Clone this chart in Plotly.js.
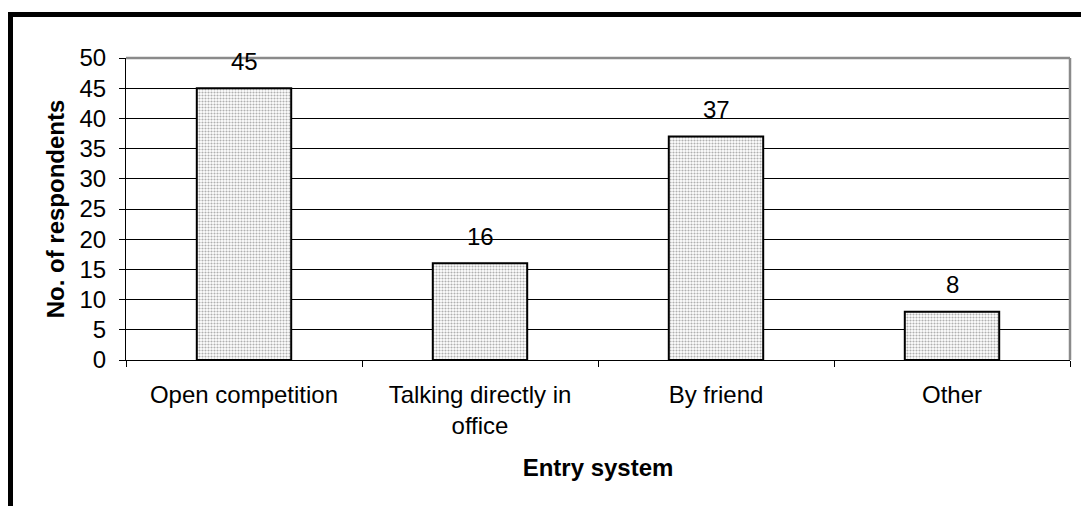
<!DOCTYPE html>
<html>
<head>
<meta charset="utf-8">
<script src="https://cdn.plot.ly/plotly-3.0.1.min.js"></script>
<style>
  html, body { margin: 0; padding: 0; background: #fff; }
  #chart { width: 1081px; height: 506px; }
  #frame { position: absolute; left: 8px; top: 12px; width: 1200px; height: 600px;
           border-left: 5px solid #000; border-top: 5px solid #000; pointer-events: none; }
</style>
</head>
<body>
<div id="chart"></div>
<div id="frame"></div>
<script>
const categories = ["Open competition", "Talking directly in<br>office", "By friend", "Other"];
const respondents = [45, 16, 37, 8];
const yTicks = [0, 5, 10, 15, 20, 25, 30, 35, 40, 45, 50];

const font = "Liberation Sans, Arial, sans-serif";
const fs = 24;

const trace = {
  type: "bar",
  x: categories,
  y: respondents,
  marker: {
    color: "#ffffff",
    line: { color: "#000", width: 2 },
    pattern: { shape: ".", fgcolor: "#b0b0b0", bgcolor: "#ffffff", size: 3, solidity: 0.4 }
  },
  hoverinfo: "none"
};

const annotations = categories.map((c, i) => ({
  x: c, y: respondents[i], xref: "x", yref: "y",
  text: String(respondents[i]), showarrow: false,
  yanchor: "middle", yshift: 27,
  font: { family: font, size: fs, color: "#000" }
}));

const layout = {
  width: 1081, height: 506,
  margin: { l: 126, r: 11, t: 58, b: 146 },
  paper_bgcolor: "#fff", plot_bgcolor: "#fff",
  showlegend: false,
  bargap: 0.6,
  font: { family: font, size: fs, color: "#000" },
  xaxis: {
    type: "category",
    showline: true, linecolor: "#000", linewidth: 1,
    ticks: "outside", tickson: "boundaries", ticklen: 6, tickcolor: "#000",
    ticklabelstandoff: 13,
    tickfont: { family: font, size: fs, color: "#000" },
    title: { text: "<b>Entry system</b>", font: { family: font, size: fs, color: "#000" }, standoff: 21 },
    showgrid: false, zeroline: false, automargin: false
  },
  yaxis: {
    range: [0, 50],
    tickvals: yTicks,
    showline: true, linecolor: "#000", linewidth: 1,
    ticks: "outside", ticklen: 6, tickcolor: "#000",
    ticklabelstandoff: 8,
    tickfont: { family: font, size: fs, color: "#000" },
    showgrid: true, gridcolor: "#000", gridwidth: 1,
    zeroline: false, automargin: false,
    title: { text: "<b>No. of respondents</b>", font: { family: font, size: fs, color: "#000" }, standoff: 8 }
  },
  shapes: [
    { type: "line", xref: "paper", yref: "paper", x0: 0, x1: 1, y0: 1, y1: 1,
      line: { color: "#8a8a8a", width: 2.5 } },
    { type: "line", xref: "paper", yref: "paper", x0: 1, x1: 1, y0: 0, y1: 1,
      line: { color: "#8a8a8a", width: 2.5 } }
  ],
  annotations: annotations
};

Plotly.newPlot("chart", [trace], layout, { staticPlot: true, displayModeBar: false });
</script>
</body>
</html>
